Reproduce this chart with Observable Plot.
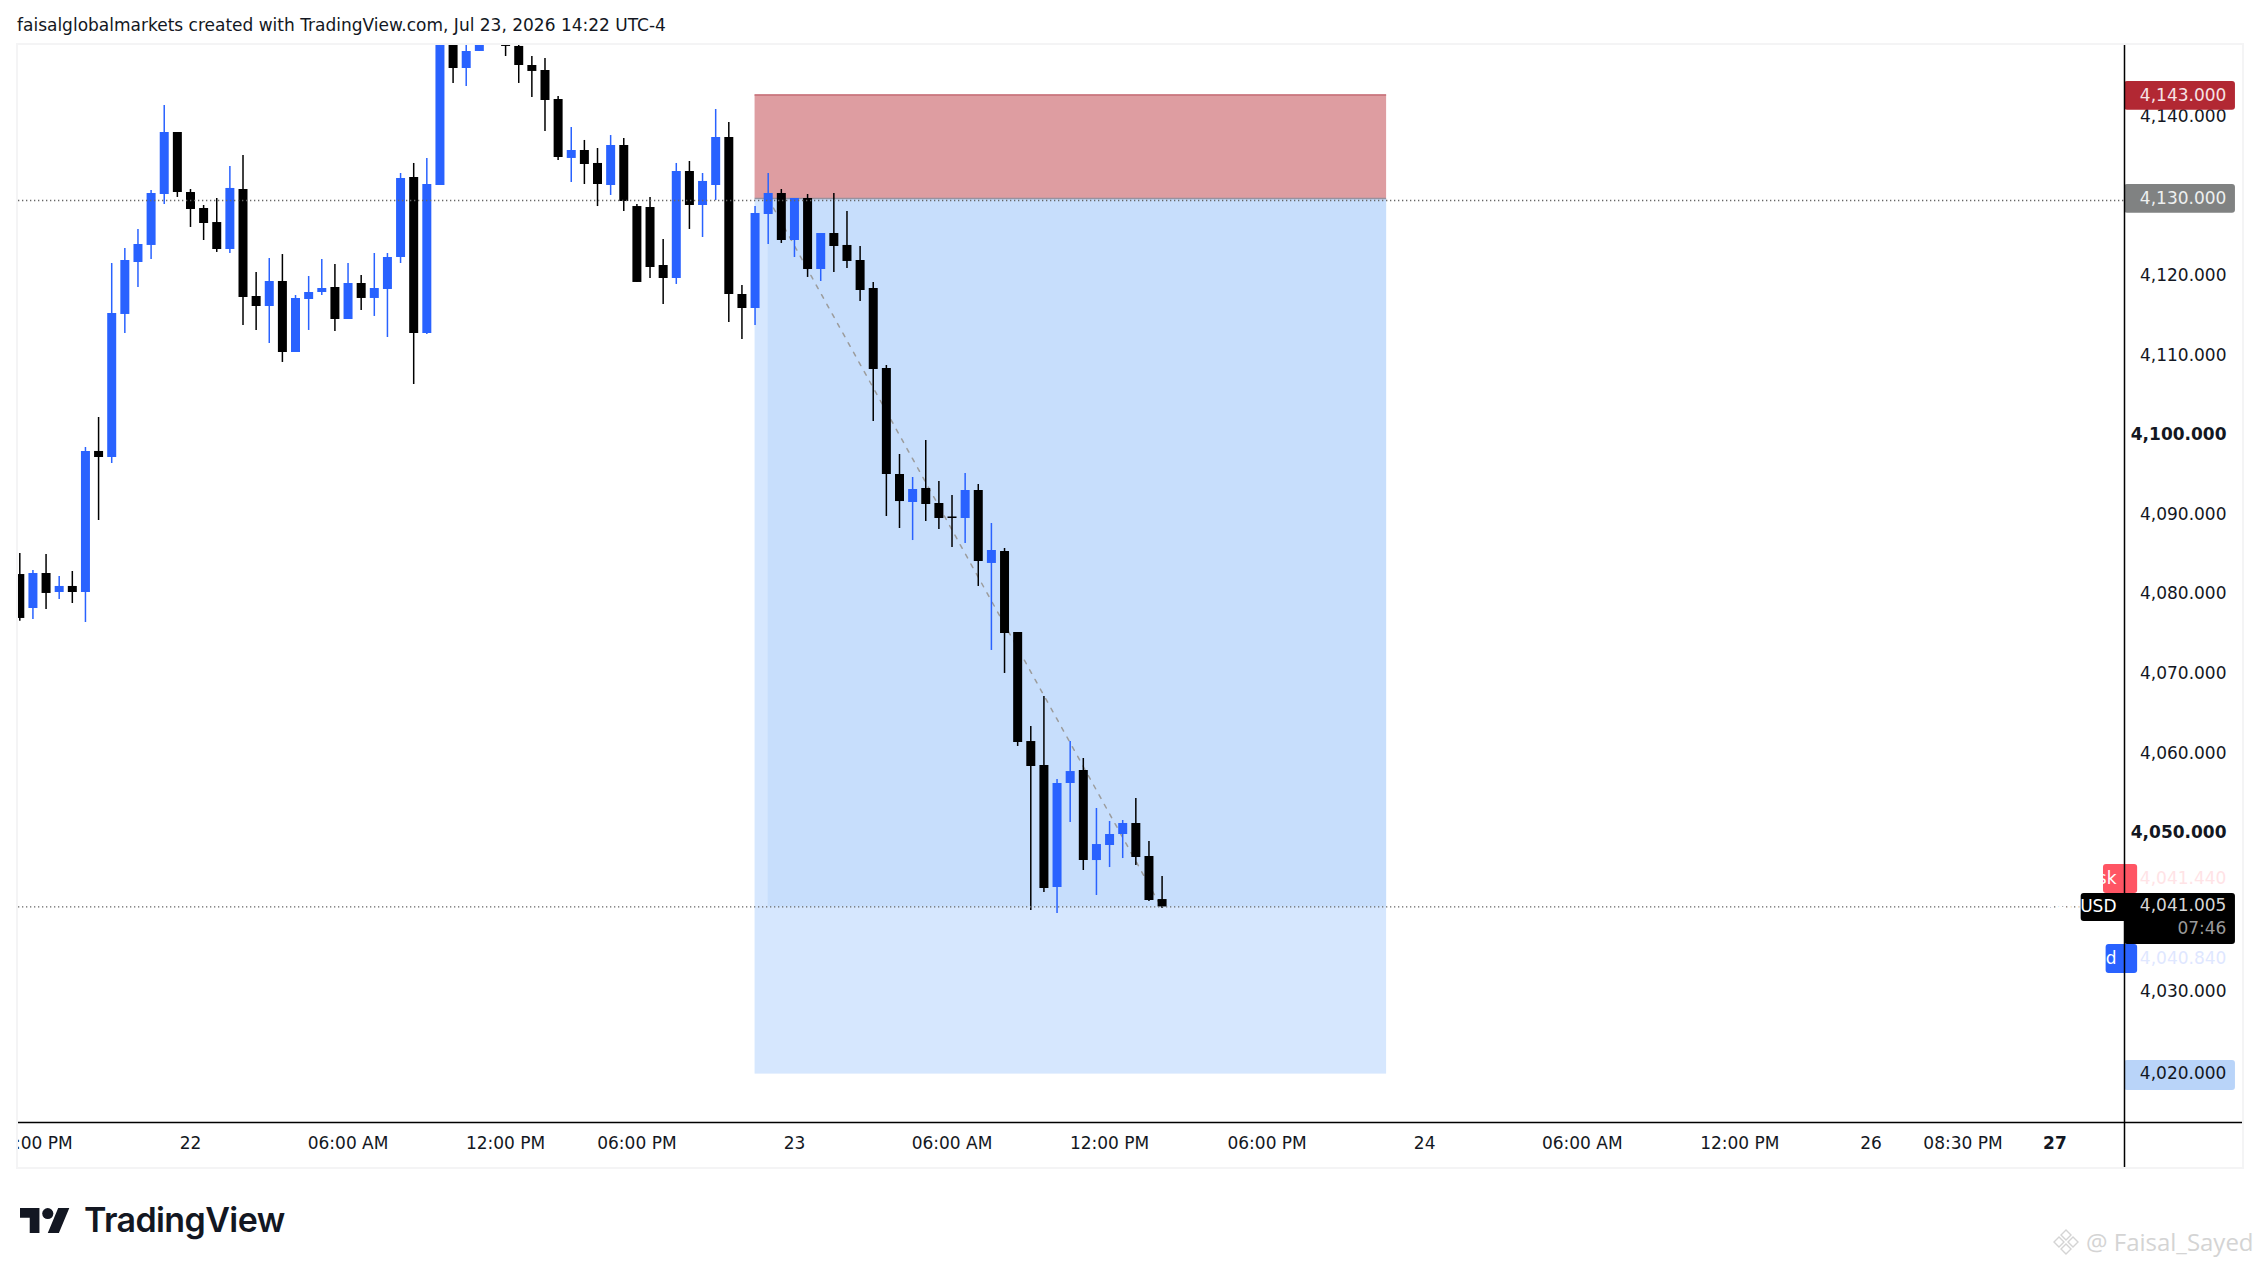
<!DOCTYPE html>
<html>
<head>
<meta charset="utf-8">
<script src="https://cdn.jsdelivr.net/npm/d3@7"></script>
<script src="https://cdn.jsdelivr.net/npm/@observablehq/plot@0.6"></script>
<style>
html,body{margin:0;padding:0;background:#fff;overflow:hidden;width:2259px;height:1267px;font-family:"DejaVu Sans",sans-serif}
#page{position:relative;width:2259px;height:1267px}
#title{position:absolute;left:17px;top:15px;font-size:17px;line-height:20px;color:#131722;white-space:nowrap}
#frame{position:absolute;left:16px;top:43px;width:2224px;height:1122px;border:2px solid #f4f4f5;pointer-events:none}
#chart{position:absolute;left:18px;top:45px}
#logo{position:absolute;left:20px;top:1203px;display:flex;align-items:center}
#logo span{font-family:Inter,sans-serif;font-weight:600;font-size:34px;letter-spacing:-.6px;color:#131722;margin-left:14px;line-height:34px}
#mark{position:absolute;left:2052px;top:1225px;display:flex;align-items:center;color:#d4d4d4;font-family:"Open Sans",sans-serif;font-size:24px;white-space:nowrap}
#mark svg{margin-right:6px}
</style>
</head>
<body>
<div id="page">
<div id="title">faisalglobalmarkets created with TradingView.com, Jul 23, 2026 14:22 UTC-4</div>
<div id="frame"></div>
<div id="chart"></div>
<div id="logo">
<svg width="50" height="25" viewBox="0 4 36 18" preserveAspectRatio="none"><path fill="#131722" d="M14 22H7V11H0V4h14v18zM28 22h-8l7.5-18h8L28 22z"/><circle fill="#131722" cx="20" cy="8" r="4"/></svg>
<span>TradingView</span>
</div>
<div id="mark">
<svg width="28" height="28" viewBox="0 0 28 28" fill="none" stroke="#d4d4d4" stroke-width="1.4"><path d="M14 2l5 5-5 5-5-5zM7 9l5 5-5 5-5-5zM21 9l5 5-5 5-5-5zM14 16l5 5-5 5-5-5z"/></svg>
<span>@ Faisal_Sayed</span>
</div>
</div>
<script>
const opens = [4082.76,4078.49,4082.89,4080.50,4081.26,4080.50,4098.22,4097.46,4115.43,4121.96,4124.10,4130.50,4138.29,4130.75,4128.74,4126.98,4123.59,4131.13,4117.69,4116.43,4119.57,4110.65,4117.31,4118.19,4118.82,4114.80,4119.32,4117.44,4118.57,4122.59,4132.64,4113.04,4131.63,4150.00,4146.33,4148.47,4152.00,4150.00,4149.10,4146.71,4146.08,4142.44,4135.03,4136.03,4134.40,4131.63,4136.66,4128.99,4128.87,4121.58,4119.95,4133.39,4129.12,4131.63,4137.66,4117.94,4116.18,4127.99,4130.63,4124.72,4130.00,4121.08,4125.60,4124.10,4122.21,4118.69,4108.64,4095.33,4091.81,4093.57,4091.68,4089.99,4089.80,4093.32,4084.15,4085.65,4075.48,4061.78,4058.77,4043.44,4056.51,4058.14,4046.83,4048.72,4050.10,4051.48,4047.34,4041.93];
const closes = [4077.24,4082.89,4080.38,4081.26,4080.50,4098.22,4097.46,4115.55,4122.21,4124.22,4130.63,4138.29,4130.75,4128.62,4126.86,4123.59,4131.26,4117.56,4116.43,4119.57,4110.65,4117.44,4118.19,4118.69,4114.80,4119.32,4117.44,4118.69,4122.59,4132.51,4113.04,4131.76,4150.00,4146.33,4148.47,4150.00,4150.00,4149.10,4146.71,4145.96,4142.31,4135.15,4136.03,4134.27,4131.76,4136.66,4129.62,4119.45,4121.33,4119.95,4133.39,4129.12,4132.14,4137.66,4117.94,4116.18,4128.12,4130.63,4124.72,4130.00,4121.08,4125.60,4123.97,4122.09,4118.44,4108.52,4095.33,4091.93,4093.44,4091.56,4089.80,4089.80,4093.32,4084.40,4085.78,4075.35,4061.66,4058.64,4043.32,4056.51,4058.01,4046.83,4048.84,4050.10,4051.48,4047.21,4041.81,4041.00];
const highs = [4085.40,4083.27,4085.28,4082.51,4083.14,4098.72,4102.49,4121.83,4123.72,4126.11,4131.01,4141.68,4138.29,4131.13,4129.12,4130.00,4134.02,4135.40,4120.70,4122.46,4122.96,4117.81,4120.20,4122.34,4121.71,4121.83,4120.33,4123.09,4123.09,4133.14,4134.40,4135.03,4150.60,4152.00,4150.50,4151.00,4153.00,4151.00,4150.00,4147.84,4147.59,4142.81,4138.92,4137.29,4136.28,4137.91,4137.54,4129.25,4130.13,4124.85,4134.40,4134.65,4133.14,4141.18,4139.55,4119.07,4128.99,4133.14,4131.13,4130.00,4130.50,4125.60,4130.63,4128.37,4123.97,4119.45,4109.02,4097.84,4094.95,4099.60,4094.45,4092.69,4095.45,4094.07,4089.17,4086.03,4075.48,4063.67,4067.44,4057.01,4061.78,4059.65,4053.37,4051.73,4051.86,4054.62,4049.22,4044.82];
const lows = [4076.90,4077.11,4078.37,4079.62,4079.12,4076.73,4089.55,4096.71,4113.04,4118.82,4122.34,4129.25,4130.13,4126.36,4124.72,4123.22,4123.09,4114.04,4113.42,4111.78,4109.40,4110.65,4113.42,4117.81,4113.29,4114.80,4115.93,4115.18,4112.54,4121.83,4106.63,4112.91,4131.63,4144.45,4144.07,4148.47,4149.60,4147.84,4144.45,4142.69,4138.42,4134.77,4132.01,4131.76,4128.99,4130.38,4128.37,4119.45,4119.95,4116.68,4119.20,4126.11,4125.10,4129.75,4114.42,4112.29,4114.04,4124.22,4124.35,4122.59,4120.08,4119.57,4120.70,4121.21,4117.06,4101.98,4090.05,4088.54,4087.03,4089.42,4088.42,4086.16,4086.66,4081.26,4073.22,4070.33,4061.16,4040.55,4042.81,4040.17,4051.61,4045.58,4042.44,4045.95,4047.08,4046.20,4041.68,4040.80];

const priceTicks = [4140,4120,4110,4090,4080,4070,4060,4030];
const boldPriceTicks = [4100,4050];
const timeTicks = [1,13,25,37,47,59,71,83,95,107,119,131,141,148];
const timeLabels = ["06:00 PM","22","06:00 AM","12:00 PM","06:00 PM","23","06:00 AM","12:00 PM","06:00 PM","24","06:00 AM","12:00 PM","26","08:30 PM"];
const boldTimeTicks = [155];
const boldTimeLabels = ["27"];

const stopPrice = 4143, entryPrice = 4130, targetPrice = 4020, lastPrice = 4041.005, prevClose = 4129.75;
const boxStart = 56, boxFilled = 57, boxEnd = 104.1;
const pathBars = [57, 87], pathPrices = [4130, 4040.8];
const xMax = 160.3, tagEnd = 168.75, valueX = 168.06, sideX = 159.69;

const priceTags = [
  {x1: xMax, y1: 4144.70, y2: 4141.09, fill: "#b22833"},
  {x1: xMax, y1: 4131.76, y2: 4128.15, fill: "#808282"},
  {x1: xMax, y1: 4021.71, y2: 4017.93, fill: "#b9d4f9"},
  {x1: 158.7, y1: 4046.33, y2: 4042.69, fill: "#ff5564"},
  {x1: 157.0, y1: 4042.69, y2: 4039.17, fill: "#000000"},
  {x1: xMax, y1: 4042.69, y2: 4036.28, fill: "#000000"},
  {x1: 158.9, y1: 4036.28, y2: 4032.64, fill: "#2962ff"}
];
const tagTexts = [
  {x: valueX, y: 4142.90, t: "4,143.000", c: "#f6e3e5"},
  {x: valueX, y: 4130.00, t: "4,130.000", c: "#eef0f0"},
  {x: valueX, y: 4020.08, t: "4,020.000", c: "#131722"},
  {x: valueX, y: 4044.51, t: "4,041.440", c: "#ffe3e6"},
  {x: valueX, y: 4041.18, t: "4,041.005", c: "#d6d6d6"},
  {x: valueX, y: 4038.33, t: "07:46", c: "#9a9a9a"},
  {x: valueX, y: 4034.46, t: "4,040.840", c: "#dfe7ff"},
  {x: sideX, y: 4044.51, t: "Ask", c: "#ffffff"},
  {x: sideX, y: 4041.05, t: "XAUUSD", c: "#ffffff"},
  {x: sideX, y: 4034.46, t: "Bid", c: "#ffffff"}
];

const bars = opens.map((o, i) => ({i, o, c: closes[i], h: highs[i], l: lows[i], color: closes[i] >= o ? "#2962ff" : "#000000"}));
const priceFormat = d3.format(",.3f");
const yMin = 4013.92, yMax = 4149.22;

const plot = Plot.plot({
  width: 2224,
  height: 1122,
  marginLeft: 0,
  marginRight: 118,
  marginTop: 0,
  marginBottom: 45,
  style: {fontFamily: "DejaVu Sans", fontSize: "17px", color: "#131722", background: "transparent"},
  x: {type: "linear", domain: [-0.099, xMax], axis: null},
  y: {domain: [yMin, yMax], axis: null},
  marks: [
    Plot.rect([0], {x1: boxStart, x2: boxEnd, y1: stopPrice, y2: entryPrice, fill: "#de9da1"}),
    Plot.rect([0], {x1: boxStart, x2: boxEnd, y1: entryPrice, y2: targetPrice, fill: "#d6e7fe"}),
    Plot.rect([0], {x1: boxFilled, x2: boxEnd, y1: entryPrice, y2: lastPrice, fill: "#c7defc"}),
    Plot.ruleY([stopPrice], {x1: boxStart, x2: boxEnd, stroke: "#c46e76", strokeWidth: 1.5}),
    Plot.ruleY([entryPrice], {x1: boxStart, x2: boxEnd, stroke: "#98929e", strokeWidth: 1.5}),
    Plot.line(pathBars.map((b, k) => [b, pathPrices[k]]), {x: "0", y: "1", stroke: "#9c9c9c", strokeWidth: 1.5, strokeDasharray: "4 7"}),
    Plot.ruleX(bars, {x: "i", y1: "l", y2: "h", stroke: "color", strokeWidth: 1.5, clip: true}),
    Plot.ruleX(bars, {x: "i", y1: "o", y2: "c", stroke: "color", strokeWidth: 9, clip: true}),
    Plot.ruleY([prevClose, lastPrice], {stroke: "#666", strokeWidth: 1.3, strokeDasharray: "1.3 2.7"}),
    Plot.ruleY([yMin], {stroke: "#000", strokeWidth: 1.5, insetRight: -118}),
    Plot.axisX({ticks: timeTicks, tickFormat: d => timeLabels[timeTicks.indexOf(d)], tickSize: 0, tickPadding: 14, label: null, fill: "#131722"}),
    Plot.axisX({ticks: boldTimeTicks, tickFormat: d => boldTimeLabels[boldTimeTicks.indexOf(d)], tickSize: 0, tickPadding: 14, label: null, fontWeight: "bold", fill: "#131722"}),
    Plot.axisY({anchor: "right", ticks: priceTicks, tickFormat: priceFormat, tickSize: 0, tickPadding: 102, textAnchor: "end", dy: -2.5, label: null, fill: "#131722"}),
    Plot.axisY({anchor: "right", ticks: boldPriceTicks, tickFormat: priceFormat, tickSize: 0, tickPadding: 102, textAnchor: "end", dy: -2.5, label: null, fontWeight: "bold", fill: "#131722"}),
    Plot.rect(priceTags, {x1: "x1", x2: d => d.x1 === xMax ? tagEnd : xMax + 1, y1: "y1", y2: "y2", fill: "fill", rx: 3}),
    Plot.text(tagTexts, {x: "x", y: "y", text: "t", fill: "c", textAnchor: "end"}),
    Plot.ruleX([xMax], {stroke: "#000", strokeWidth: 1.5, insetBottom: -45})
  ]
});
document.getElementById("chart").appendChild(plot);
</script>
</body>
</html>
